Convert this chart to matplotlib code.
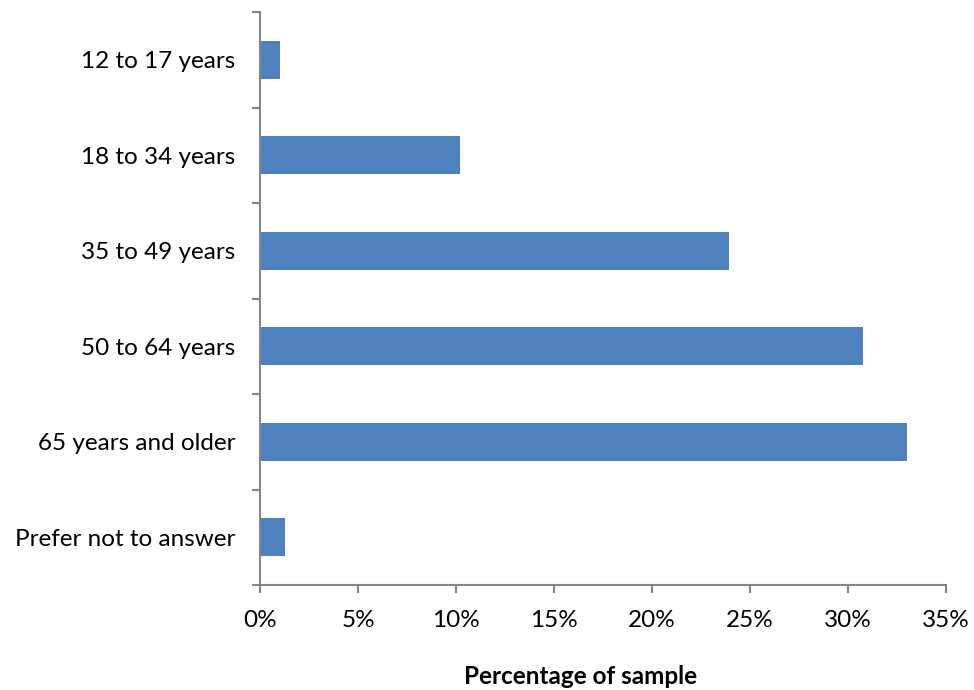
import matplotlib
matplotlib.use("Agg")
import matplotlib.pyplot as plt
from matplotlib.ticker import FixedLocator, PercentFormatter
import numpy as np

categories = ["12 to 17 years", "18 to 34 years", "35 to 49 years",
              "50 to 64 years", "65 years and older", "Prefer not to answer"]
percentages = [1.0, 10.2, 23.95, 30.75, 33.0, 1.25]
x_ticks = [0, 5, 10, 15, 20, 25, 30, 35]

plt.rcParams["font.family"] = ["Lato", "DejaVu Sans"]

fig = plt.figure(figsize=(9.74, 6.9), dpi=100)
ax = fig.add_axes([260 / 974, 1 - 585 / 690, (946 - 260) / 974, (585 - 12) / 690])

n = len(categories)
ypos = np.arange(n)
ax.barh(ypos, percentages, height=0.4, color="#4F81BD")

ax.set_ylim(n - 0.5, -0.5)
ax.set_xlim(0, 35)

axis_color = "#868686"
for side in ("top", "right"):
    ax.spines[side].set_visible(False)
for side in ("left", "bottom"):
    ax.spines[side].set_color(axis_color)
    ax.spines[side].set_linewidth(1.5)

fs = 17.5
ax.set_yticks(ypos)
ax.set_yticklabels(categories, fontsize=fs, color="#000000")
ax.tick_params(axis="y", which="major", length=0, pad=18)
ax.yaxis.set_minor_locator(FixedLocator(np.arange(-0.5, n, 1.0)))
ax.tick_params(axis="y", which="minor", length=6, width=1.5, color=axis_color)

ax.set_xticks(x_ticks)
ax.xaxis.set_major_formatter(PercentFormatter(decimals=0))
ax.tick_params(axis="x", which="major", length=6, width=1.5, color=axis_color,
               labelsize=fs, pad=12)

ax.set_xlabel("Percentage of sample", fontsize=fs, fontweight="bold")
ax.xaxis.set_label_coords(0.468, -0.14)

fig.savefig("out.png", dpi=100)
